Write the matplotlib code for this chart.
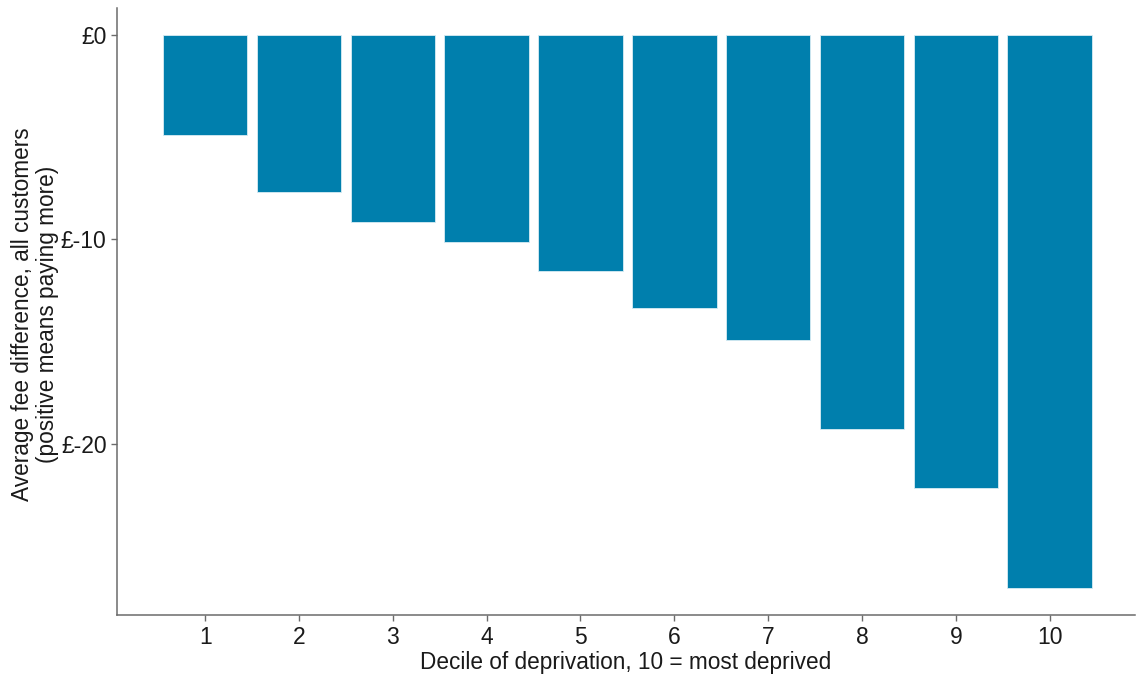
import matplotlib
matplotlib.use("Agg")
import matplotlib.pyplot as plt

deciles = ["1", "2", "3", "4", "5", "6", "7", "8", "9", "10"]
fee_diff = [-4.9, -7.7, -9.15, -10.15, -11.55, -13.35, -14.95, -19.3, -22.15, -27.05]
y_ticks = [0, -10, -20]
y_tick_labels = ["£0", "£-10", "£-20"]

plt.rcParams['font.family'] = ['Liberation Sans', 'DejaVu Sans']

fig = plt.figure(figsize=(11.37, 6.82), dpi=100)
ax = fig.add_axes([117/1137, 1-615/682, (1135-117)/1137, (615-8)/682])

xs = list(range(1, len(deciles) + 1))
ax.bar(xs, fee_diff, width=0.9, color='#007FAD', edgecolor='#d8ecf4', linewidth=0.6)

ax.set_xlim(0.06, 10.91)
ax.set_ylim(-28.38, 1.3)
ax.set_xticks(xs)
ax.set_xticklabels(deciles)
ax.set_yticks(y_ticks)
ax.set_yticklabels(y_tick_labels)

for s in ['top', 'right']:
    ax.spines[s].set_visible(False)
for s in ['left', 'bottom']:
    ax.spines[s].set_color('#6b6b6b')
    ax.spines[s].set_linewidth(1.1)

ax.tick_params(axis='both', colors='#6b6b6b', labelcolor='#1a1a1a', labelsize=16.5,
               length=4.5, width=1.0)
ax.tick_params(axis='x', pad=3.5)
ax.tick_params(axis='y', pad=3)

ax.set_xlabel("Decile of deprivation, 10 = most deprived", fontsize=16.3, color='#1a1a1a')
ax.set_ylabel("Average fee difference, all customers\n(positive means paying more)",
              fontsize=16.3, color='#1a1a1a', linespacing=1.1)
ax.xaxis.set_label_coords(0.5, -0.059)
ax.yaxis.set_label_coords(-0.057, 0.495)

fig.savefig("out.png", dpi=100)
